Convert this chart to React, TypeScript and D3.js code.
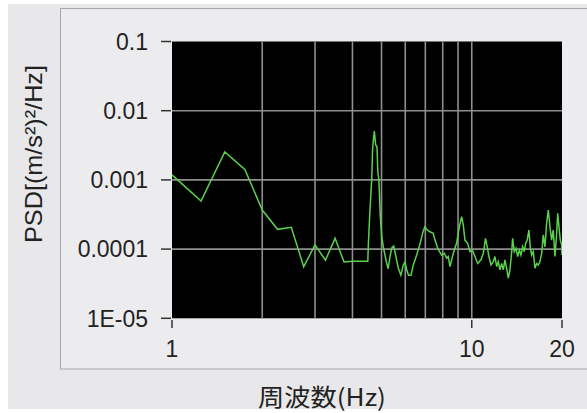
import React from "react";
import * as d3 from "d3";

// Frequency axis samples (Hz) and power spectral density values ((m/s²)²/Hz)
const freqHz = [
  1.0, 1.25, 1.5, 1.75, 2.0, 2.25, 2.5, 2.75, 3.0, 3.25, 3.5, 3.75, 4.0, 4.25, 4.5,
  4.52, 4.57, 4.64, 4.67, 4.73, 4.78, 4.83, 4.86, 4.9, 4.95, 5.01, 5.07, 5.11, 5.19, 5.26,
  5.34, 5.41, 5.49, 5.58, 5.69, 5.8, 5.91, 5.99, 6.07, 6.15, 6.27, 6.38, 6.55, 6.72, 6.89,
  6.98, 7.07, 7.25, 7.44, 7.54, 7.73, 7.94, 8.1, 8.25, 8.35, 8.46, 8.57, 8.74, 8.9, 9.07,
  9.25, 9.37, 9.49, 9.69, 9.86, 10.04, 10.25, 10.46, 10.73, 10.93, 11.11, 11.28, 11.41, 11.59, 11.8,
  11.95, 12.11, 12.26, 12.42, 12.58, 12.74, 12.9, 13.07, 13.24, 13.41, 13.59, 13.69, 13.86, 14.04, 14.23,
  14.4, 14.59, 14.78, 14.96, 15.13, 15.31, 15.51, 15.67, 15.84, 16.04, 16.25, 16.46, 16.67, 16.88, 17.11,
  17.32, 17.55, 17.77, 18.0, 18.23, 18.47, 18.7, 18.95, 19.2, 19.35, 19.54, 19.74, 19.95, 20.0,
];

const psdValues = [
  1.18e-3, 4.95e-4, 2.53e-3, 1.42e-3, 3.67e-4, 1.93e-4, 2.07e-4, 5.57e-5, 1.15e-4, 6.9e-5, 1.43e-4, 6.5e-5, 6.7e-5, 6.7e-5, 6.7e-5,
  1.19e-4, 3.32e-4, 1.07e-3, 2.89e-3, 5.09e-3, 3.19e-3, 2.99e-3, 1.3e-3, 1.0e-3, 3.11e-4, 1.5e-4, 1.07e-4, 9.1e-5, 6.5e-5, 5.2e-5,
  7.9e-5, 1.04e-4, 1.11e-4, 7.9e-5, 5.3e-5, 4.2e-5, 5.9e-5, 6.5e-5, 5.0e-5, 4.2e-5, 4.2e-5, 5.9e-5, 8.2e-5, 1.19e-4, 1.83e-4,
  2.11e-4, 1.93e-4, 1.78e-4, 1.69e-4, 1.35e-4, 9.9e-5, 8.2e-5, 8.7e-5, 7.4e-5, 7.8e-5, 5.6e-5, 7.0e-5, 9.7e-5, 1.21e-4, 2.0e-4,
  2.94e-4, 2.23e-4, 1.35e-4, 1.21e-4, 9.2e-5, 9.7e-5, 7.8e-5, 6.2e-5, 7.0e-5, 8.7e-5, 1.43e-4, 1.03e-4, 7.8e-5, 5.9e-5, 6.6e-5,
  7.8e-5, 5.6e-5, 6.6e-5, 5.0e-5, 6.2e-5, 5.0e-5, 7.0e-5, 5.3e-5, 3.8e-5, 5.0e-5, 9.2e-5, 1.43e-4, 9.2e-5, 1.03e-4, 7.8e-5,
  9.7e-5, 8.2e-5, 1.08e-4, 9.2e-5, 1.21e-4, 1.35e-4, 1.89e-4, 1.08e-4, 8.2e-5, 9.2e-5, 5.3e-5, 6.2e-5, 5.9e-5, 6.6e-5, 8.7e-5,
  1.6e-4, 1.08e-4, 2.36e-4, 3.67e-4, 2.11e-4, 1.35e-4, 1.89e-4, 7.8e-5, 1.69e-4, 3.29e-4, 2.11e-4, 1.35e-4, 1.15e-4, 8.2e-5,
];

// Axis ticks and labels
const yTicks = [1e-5, 1e-4, 1e-3, 1e-2, 1e-1];
const yTickLabels = ["1E-05", "0.0001", "0.001", "0.01", "0.1"];
const yGrid = [1e-4, 1e-3, 1e-2];
const xGrid = [2, 3, 4, 5, 6, 7, 8, 9, 10];
const xTicks = [1, 10, 20];
const xTickLabels = ["1", "10", "20"];

const W = 587;
const H = 413;
const plot = { left: 172, right: 562, top: 41.5, bottom: 318.3 };

const numFont = "'Liberation Sans', Arial, sans-serif";
const jpFont = "'Noto Sans CJK JP', 'Liberation Sans', sans-serif";

export default function App() {
  const x = d3.scaleLog().domain([1, 20]).range([plot.left, plot.right]);
  const y = d3.scaleLog().domain([1e-5, 0.1]).range([plot.bottom, plot.top]);

  const pts: [number, number][] = freqHz.map((f, i) => [f, psdValues[i]]);
  const line = d3
    .line<[number, number]>()
    .x((d) => x(d[0]))
    .y((d) => y(d[1]));

  const gridColor = "#8e8e8e";

  return (
    <div style={{ position: "absolute", left: 0, top: 0 }}>
      <svg width={W} height={H} style={{ display: "block" }}>
        <rect x={0} y={0} width={W} height={H} fill="#ffffff" />
        <rect x={8} y={4} width={W - 8} height={405} fill="#e8e8ea" />
        <rect x={60.5} y={8.5} width={W} height={360.5} fill="#ececee" stroke="#a6a6a6" strokeWidth={1} />

        <defs>
          <clipPath id="plot-clip">
            <rect x={plot.left} y={plot.top} width={plot.right - plot.left} height={plot.bottom - plot.top} />
          </clipPath>
        </defs>

        {/* plot background */}
        <rect x={plot.left} y={plot.top} width={plot.right - plot.left} height={plot.bottom - plot.top} fill="#000000" />

        {/* grid */}
        {xGrid.map((g) => (
          <line key={"gx" + g} x1={x(g)} x2={x(g)} y1={plot.top} y2={plot.bottom} stroke={gridColor} strokeWidth={1.6} />
        ))}
        {yGrid.map((g) => (
          <line key={"gy" + g} x1={plot.left} x2={plot.right} y1={y(g)} y2={y(g)} stroke={gridColor} strokeWidth={1.6} />
        ))}

        {/* spectrum */}
        <path d={line(pts) || ""} fill="none" stroke="#5ad24c" strokeWidth={1.5} clipPath="url(#plot-clip)" />

        {/* y axis ticks and labels */}
        {yTicks.map((t, i) => (
          <g key={"yt" + t}>
            <line x1={161} x2={171} y1={y(t)} y2={y(t)} stroke="#333" strokeWidth={1.5} />
            <text x={148} y={y(t)} dy="0.36em" textAnchor="end" fontFamily={numFont} fontSize={23} fill="#222">
              {yTickLabels[i]}
            </text>
          </g>
        ))}

        {/* x axis ticks and labels */}
        {xTicks.map((t, i) => (
          <g key={"xt" + t}>
            <line x1={x(t)} x2={x(t)} y1={320} y2={328} stroke="#333" strokeWidth={1.5} />
            <text x={x(t)} y={357} textAnchor="middle" fontFamily={numFont} fontSize={23} fill="#222">
              {xTickLabels[i]}
            </text>
          </g>
        ))}

        {/* axis titles */}
        <text
          transform="translate(42,154) rotate(-90)"
          textAnchor="middle"
          fontFamily={numFont}
          fontSize={24}
          fill="#222"
          textLength={178}
          lengthAdjust="spacingAndGlyphs"
        >
          PSD[(m/s²)²/Hz]
        </text>
        <text
          x={322}
          y={406}
          textAnchor="middle"
          fontFamily={jpFont}
          fontSize={24}
          fill="#222"
          textLength={128}
          lengthAdjust="spacingAndGlyphs"
        >
          周波数(Hz)
        </text>
      </svg>
    </div>
  );
}
